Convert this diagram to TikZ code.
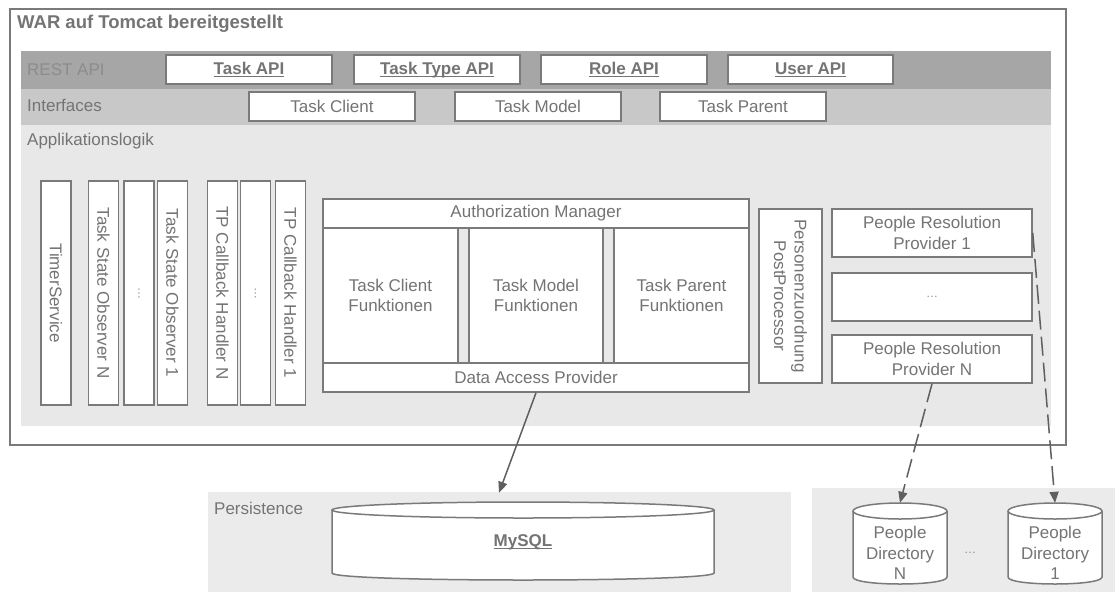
\documentclass[tikz,border=0pt]{standalone}
\usepackage{fontspec}
\setmainfont{Liberation Sans}
\usetikzlibrary{arrows.meta}
\definecolor{ln}{HTML}{7A7A7A}
\definecolor{tx}{HTML}{747474}
\definecolor{restc}{HTML}{A6A6A6}
\definecolor{ifc}{HTML}{C8C8C8}
\definecolor{appc}{HTML}{E8E8E8}
\definecolor{perc}{HTML}{EBEBEB}
\definecolor{arr}{HTML}{5F5F5F}
\definecolor{dotc}{HTML}{8C8C8C}
\newcommand{\ulbl}[1]{\underline{\smash{#1}\vphantom{A}}}
\begin{document}
\begin{tikzpicture}[x=1pt,y=-1pt,
  every node/.style={font=\fontsize{17}{20.5}\selectfont, text=tx, inner sep=0pt},
  box/.style={draw=ln, line width=1.5pt, fill=white, align=center},
  apibox/.style={box, minimum width=166, minimum height=29, font=\bfseries\fontsize{17}{20.5}\selectfont},
  ifbox/.style={box, minimum width=166, minimum height=29},
  vbox/.style={box, rotate=-90, minimum width=224, minimum height=30},
  dots/.style={font=\fontsize{12}{14}\selectfont, text=dotc},
  bandlabel/.style={anchor=west},
  ghost/.style={draw=none, fill=none},
  cyl/.style={draw=ln, line width=1.5pt, fill=white},
  conn/.style={draw=arr, line width=1.5pt, -{Triangle[length=11pt,width=9pt]}},
  dconn/.style={conn, dash pattern=on 19pt off 7pt}
]
\useasboundingbox (0,0) rectangle (1115,592);
\fill[white] (0,0) rectangle (1115,592);

% outer WAR box
\draw[draw=ln, line width=1.5pt] (10,9) rectangle (1066,445);
\node[anchor=west, font=\bfseries\fontsize{18.5}{22}\selectfont] (wartitle) at (17,24) {WAR auf Tomcat bereitgestellt};

% bands
\fill[restc] (21,51) rectangle (1051,89);
\fill[ifc] (21,89) rectangle (1051,125);
\fill[appc] (21,125) rectangle (1051,426);
\node[bandlabel, text=dotc] (restlbl) at (27,70) {REST API};
\node[bandlabel] (iflbl) at (27,105) {Interfaces};
\node[bandlabel] (applbl) at (27,141) {Applikationslogik};

% REST API boxes
\node[apibox] (taskapi) at (249,69.5) {\ulbl{Task API}};
\node[apibox] (tasktypeapi) at (437,69.5) {\ulbl{Task Type API}};
\node[apibox] (roleapi) at (624,69.5) {\ulbl{Role API}};
\node[apibox, minimum width=165] (userapi) at (810.5,69.5) {\ulbl{User API}};

% Interfaces boxes
\node[ifbox] (taskclient) at (332,106.5) {Task Client};
\node[ifbox] (taskmodel) at (538,106.5) {Task Model};
\node[ifbox] (taskparent) at (743,106.5) {Task Parent};

% vertical boxes
\node[vbox] (timer) at (56,293) {TimerService};
\node[vbox] (tsoN) at (103.5,293) {Task State Observer N};
\node[vbox, dots] (tsodots) at (139,293) {…};
\node[vbox] (tso1) at (172.5,293) {Task State Observer 1};
\node[vbox] (tpN) at (222.5,293) {TP Callback Handler N};
\node[vbox, dots] (tpdots) at (255.5,293) {…};
\node[vbox] (tp1) at (290.5,293) {TP Callback Handler 1};

% middle block
\node[box, minimum width=426, minimum height=29] (am) at (536,213.5) {Authorization Manager};
\node[box, minimum width=135, minimum height=135] (tcf) at (390.5,295.5) {Task Client\\Funktionen};
\node[box, minimum width=134, minimum height=135] (tmf) at (536,295.5) {Task Model\\Funktionen};
\node[box, minimum width=135, minimum height=135] (tpf) at (681.5,295.5) {Task Parent\\Funktionen};
\node[box, minimum width=426, minimum height=29] (dap) at (536,377.5) {Data Access Provider};

% right block
\node[box, rotate=-90, minimum width=174, minimum height=63] (pzpp) at (790.5,296) {Personenzuordnung\\PostProcessor};
\node[box, minimum width=200, minimum height=48] (prp1) at (932,233) {People Resolution\\Provider 1};
\node[box, dots, minimum width=200, minimum height=48] (prpdots) at (932,297) {…};
\node[box, minimum width=200, minimum height=48] (prpN) at (932,359) {People Resolution\\Provider N};

% bottom bands
\fill[perc] (208,492) rectangle (791,592);
\fill[perc] (812,488) rectangle (1115,592);
\node[bandlabel] (perslbl) at (214,508) {Persistence};

% MySQL cylinder
\node[ghost, minimum width=382, minimum height=78] (mysql) at (523,541) {};
\path[fill=white] (332,510) -- (332,573) .. controls (332,582.33) and (714,582.33) .. (714,573) -- (714,510) -- cycle;
\draw[draw=ln, line width=1.5pt] (332,510) -- (332,573) .. controls (332,582.33) and (714,582.33) .. (714,573) -- (714,510);
\draw[cyl] (523,510) ellipse [x radius=191, y radius=8];
\node[font=\bfseries\fontsize{17}{20.5}\selectfont] (mysqltxt) at (523,542) {\ulbl{MySQL}};

% People Directory N
\node[ghost, minimum width=94, minimum height=81] (pdn) at (900,543.5) {};
\path[fill=white] (853,511) -- (853,577) .. controls (853,586.33) and (947,586.33) .. (947,577) -- (947,511) -- cycle;
\draw[draw=ln, line width=1.5pt] (853,511) -- (853,577) .. controls (853,586.33) and (947,586.33) .. (947,577) -- (947,511);
\draw[cyl] (900,511) ellipse [x radius=47, y radius=8];
\node[align=center] (pdntxt) at (900,553) {People\\Directory\\N};

% People Directory 1
\node[ghost, minimum width=94, minimum height=81] (pd1) at (1055,543.5) {};
\path[fill=white] (1008,511) -- (1008,577) .. controls (1008,586.33) and (1102,586.33) .. (1102,577) -- (1102,511) -- cycle;
\draw[draw=ln, line width=1.5pt] (1008,511) -- (1008,577) .. controls (1008,586.33) and (1102,586.33) .. (1102,577) -- (1102,511);
\draw[cyl] (1055,511) ellipse [x radius=47, y radius=8];
\node[align=center] (pd1txt) at (1055,553) {People\\Directory\\1};

\node[dots] (pddots) at (970,553) {…};

% connectors
\draw[conn] (dap.south) -- ([xshift=-24pt,yshift=9pt]mysql.north);
\draw[dconn] (prpN.south) -- (pdn.north);
\draw[dconn] (prp1.east) -- (pd1.north);
\end{tikzpicture}
\end{document}
